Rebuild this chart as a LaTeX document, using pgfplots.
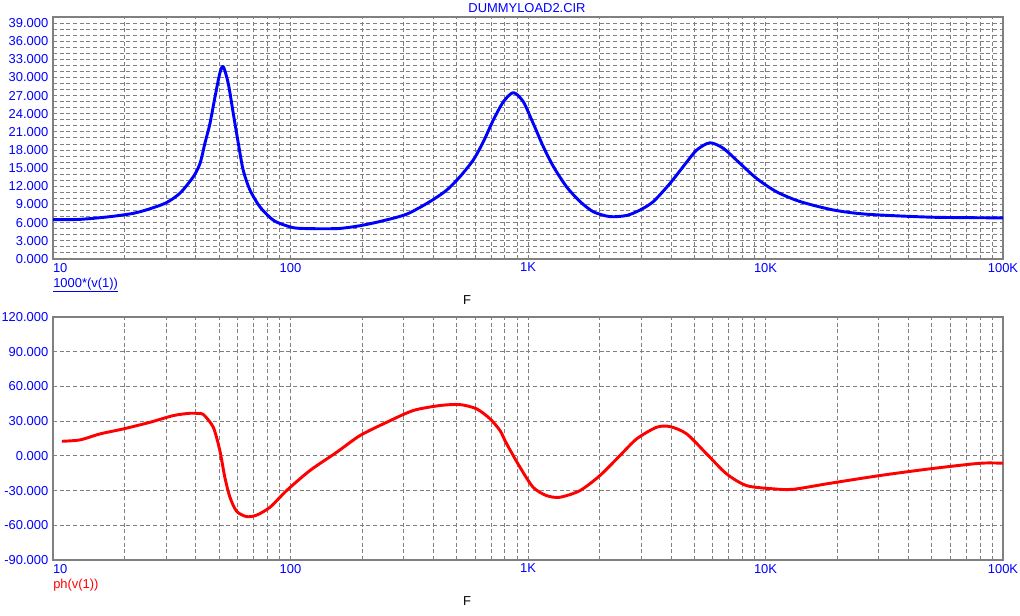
\documentclass[border=0pt]{standalone}
\usepackage{fontspec}
\setmainfont{Liberation Sans}
\usepackage{pgfplots}
\pgfplotsset{compat=1.18}
\definecolor{gridgray}{RGB}{128,128,128}
\definecolor{pblue}{RGB}{0,0,255}
\definecolor{pred}{RGB}{255,0,0}
\pgfplotsset{
  common/.style={
    scale only axis,
    width=712.5pt,
    xmin=10, xmax=100000,
    xtick={10,100,1000,10000,100000},
    xticklabels={\makebox[0pt][l]{10},100,1K,10K,100K},
    axis line style={gridgray, line width=1.1pt},
    major tick length=0pt, minor tick length=0pt,
    grid style={gridgray, line width=0.75pt, dash pattern=on 3pt off 2pt},
    minor grid style={gridgray, line width=0.75pt, dash pattern=on 3pt off 2pt},
    tick label style={font=\fontsize{9.7}{11}\selectfont, text=pblue},
    xticklabel style={yshift=0.5pt},
    /pgf/number format/assume math mode=true,
    yticklabel={\pgfmathprintnumber[fixed, fixed zerofill, precision=3, 1000 sep={}]{\tick}},
    clip=true,
  }
}
\begin{document}
\begin{tikzpicture}
\path[use as bounding box] (0,0) rectangle (765pt,462pt);
% top axis
\begin{semilogxaxis}[common,
  at={(39.75pt,267.75pt)}, anchor=south west,
  height=181.5pt,
  ymin=0, ymax=40,
  ytick={0,3,...,39},
  minor y tick num=2,
  grid=both,
]
\addplot[pblue, line width=2.2pt, line join=round, smooth, tension=0.45] coordinates {
(10,6.5) (13,6.55) (17.4,7.0) (21.8,7.55) (25.6,8.3) (30,9.3) (34.3,10.9) (39,13.6) (41.6,15.8) (43.6,19.1) (45.8,22.4) (48.1,26.8) (50.4,30.7) (52.1,31.8) (54.7,29.0) (57.4,24.1) (60.3,19.1) (63.2,14.7) (67.5,11.4) (74.4,8.6) (84.7,6.4) (96,5.5) (106,5.1) (130,5.0) (161,5.05) (196,5.5) (238,6.2) (308,7.4) (387,9.5) (455,11.4) (517,13.6) (589,16.4) (649,19.4) (715,23.0) (788,26.0) (868,27.5) (955,26.0) (1052,22.4) (1159,18.6) (1278,15.3) (1455,11.9) (1656,9.5) (1885,7.8) (2214,7.0) (2605,7.2) (2965,8.1) (3373,9.5) (3963,12.5) (4508,15.3) (5129,18.0) (5834,19.2) (6637,18.3) (7810,15.8) (9180,13.3) (11140,11.1) (13960,9.5) (19310,8.1) (26670,7.4) (50880,6.9) (100000,6.8)
};
\end{semilogxaxis}
% bottom axis
\begin{semilogxaxis}[common,
  at={(39.75pt,42pt)}, anchor=south west,
  height=182.25pt,
  ymin=-90, ymax=120,
  ytick={-90,-60,...,120},
  xmajorgrids, xminorgrids, ymajorgrids,
]
\addplot[pred, line width=2.2pt, line join=round, smooth, tension=0.45] coordinates {
(10.9,12.6) (13,13.8) (15.8,19) (19.8,23.3) (25.6,29) (32.1,34.8) (37.7,36.8) (41,36.6) (43,35.7) (47.3,24.7) (50.4,4.6) (52.9,-18.5) (55.6,-35.8) (59.3,-47.9) (65.3,-52.5) (71.9,-51.3) (82,-44.4) (96.3,-30) (120.7,-12.7) (156.5,3.1) (196,17.5) (254,29) (329,39.2) (426,43.5) (517,44.3) (608,40.6) (692,32) (762,21.9) (813,10.4) (925,-9.8) (1050,-27.1) (1195,-34.3) (1360,-35.8) (1656,-30) (2009,-17) (2440,0.3) (2868,14.7) (3478,24.7) (3963,25.3) (4656,19) (5652,1.7) (6860,-15.6) (8320,-25.7) (10780,-28.5) (13090,-28.9) (18710,-23.7) (30350,-17) (49300,-11.2) (80000,-6.4) (100000,-6.4)
};
\end{semilogxaxis}
\node[text=pblue, font=\fontsize{9.7}{11}\selectfont] at (395.25pt,456pt) {DUMMYLOAD2.CIR};
\node[anchor=west, inner sep=0pt, text=pblue, font=\fontsize{9.7}{11}\selectfont] at (39.75pt,248.25pt) {\underline{1000*(v(1))}};
\node[text=black, font=\fontsize{9.7}{11}\selectfont] at (350.25pt,237pt) {F};
\node[anchor=west, inner sep=0pt, text=pred, font=\fontsize{9.7}{11}\selectfont] at (39.75pt,23.25pt) {ph(v(1))};
\node[text=black, font=\fontsize{9.7}{11}\selectfont] at (350.25pt,11.25pt) {F};
\end{tikzpicture}
\end{document}
